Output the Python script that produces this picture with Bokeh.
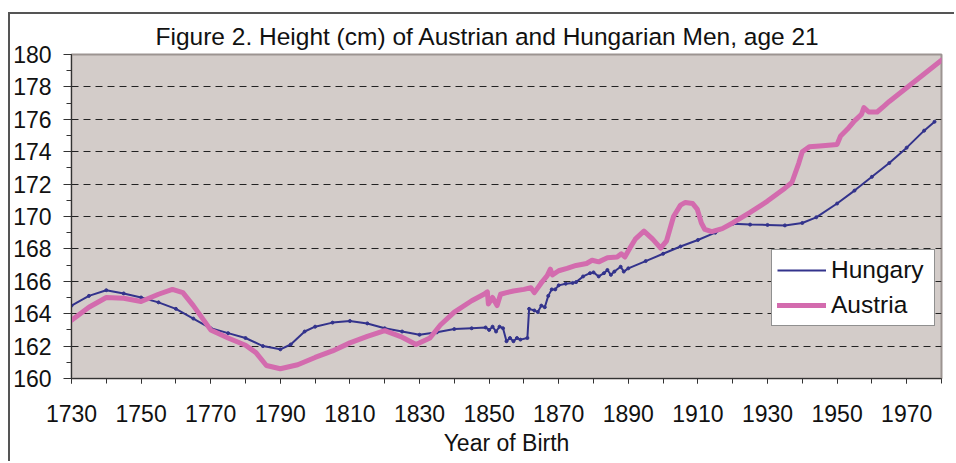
from bokeh.plotting import figure
from bokeh.models import (FixedTicker, Legend, LegendItem, Range1d)
from bokeh.embed import file_html
from bokeh.resources import INLINE

TITLE = "Figure 2. Height (cm) of Austrian and Hungarian Men, age 21"
X_LABEL = "Year of Birth"
X_TICKS = [1730, 1750, 1770, 1790, 1810, 1830, 1850, 1870, 1890, 1910, 1930, 1950, 1970]
Y_TICKS = [160, 162, 164, 166, 168, 170, 172, 174, 176, 178, 180]

hungary_year = [1730, 1735, 1740, 1745, 1750, 1755, 1760, 1765, 1770, 1775, 1780, 1785, 1790,
                1793, 1797, 1800, 1805, 1810, 1815, 1820, 1825, 1830, 1835, 1840, 1845, 1849,
                1850, 1851, 1852, 1853, 1854, 1855, 1856, 1857, 1858, 1859, 1861, 1861.5, 1863,
                1864, 1865, 1866, 1867, 1868, 1869, 1870, 1872, 1874, 1875, 1877, 1879, 1880,
                1881.5, 1883, 1884, 1885, 1886, 1887.8, 1888.7, 1890, 1895, 1900, 1905, 1910,
                1915, 1920, 1925, 1930, 1935, 1940, 1944, 1950, 1955, 1960, 1965, 1970, 1975, 1978]
hungary_height = [164.5, 165.1, 165.45, 165.25, 165.0, 164.7, 164.3, 163.7, 163.1, 162.8, 162.5, 162.0, 161.8,
                  162.1, 162.9, 163.2, 163.45, 163.55, 163.4, 163.1, 162.9, 162.7, 162.85, 163.05, 163.1, 163.15,
                  163.0, 163.2, 162.9, 163.2, 163.1, 162.3, 162.5, 162.3, 162.5, 162.4, 162.5, 164.3, 164.2,
                  164.1, 164.5, 164.4, 165.1, 165.5, 165.5, 165.75, 165.85, 165.9, 165.95, 166.3, 166.5, 166.55,
                  166.3, 166.5, 166.7, 166.4, 166.6, 166.9, 166.6, 166.8, 167.25, 167.7, 168.15, 168.55,
                  169.0, 169.55, 169.5, 169.48, 169.45, 169.6, 169.95, 170.8, 171.6, 172.45, 173.3, 174.25, 175.3, 175.85]

austria_year = [1730, 1735, 1740, 1745, 1750, 1755, 1759, 1762, 1765, 1770, 1775, 1780, 1783, 1786,
                1790, 1795, 1800, 1805, 1810, 1815, 1820, 1825, 1829, 1833, 1836, 1840, 1845, 1848.5,
                1849.5, 1849.8, 1851, 1852.3, 1853.3, 1855, 1857, 1860, 1862, 1863, 1865, 1866.7, 1867.6,
                1868.2, 1870, 1872.4, 1875, 1878, 1879.6, 1881.5, 1884, 1886.8, 1888, 1889, 1890.6, 1892,
                1894.5, 1897, 1899.3, 1901, 1903, 1905, 1906.4, 1908.5, 1909.8, 1911, 1912, 1914, 1917,
                1920, 1925, 1930, 1935, 1937, 1939, 1940, 1942, 1945, 1950, 1951, 1953, 1955, 1957,
                1957.7, 1959.1, 1961.5, 1963.4, 1965, 1970, 1975, 1980]
austria_height = [163.6, 164.4, 165.0, 164.95, 164.75, 165.2, 165.5, 165.3, 164.5, 163.0, 162.5, 162.05, 161.6, 160.8,
                  160.6, 160.85, 161.3, 161.7, 162.2, 162.6, 162.95, 162.55, 162.1, 162.5, 163.3, 164.1, 164.8, 165.2,
                  165.35, 164.6, 165.0, 164.5, 165.2, 165.3, 165.4, 165.5, 165.6, 165.3, 165.9, 166.35, 166.75,
                  166.4, 166.65, 166.8, 166.98, 167.1, 167.3, 167.2, 167.45, 167.5, 167.7, 167.5, 168.1, 168.6,
                  169.1, 168.6, 168.05, 168.5, 170.0, 170.7, 170.87, 170.8, 170.46, 169.6, 169.2, 169.07, 169.25,
                  169.6, 170.25, 170.95, 171.75, 172.1, 173.3, 174.0, 174.3, 174.35, 174.45, 174.97, 175.4, 175.9, 176.3,
                  176.72, 176.45, 176.45, 176.8, 177.1, 177.95, 178.8, 179.65]

HUN_COLOR = "#33338C"
AUT_COLOR = "#D36BAE"

p = figure(width=946, height=449, output_backend="svg", toolbar_location=None,
           x_range=Range1d(1730, 1980), y_range=Range1d(160, 180),
           min_border_left=61, min_border_right=15, min_border_top=40, min_border_bottom=85,
           background_fill_color="#D3CCC9", border_fill_color="white",
           styles={"margin-left": "8px", "margin-top": "12px",
                   "border-left": "2px solid #555555", "border-top": "2px solid #555555"})

p.title.text = TITLE
p.title.text_font = "Liberation Sans"
p.title.text_font_size = "24.5px"
p.title.text_font_style = "normal"
p.title.text_color = "#111111"
p.title.align = "left"
p.title.offset = 84
p.title.standoff = 10

p.outline_line_color = "#9C9491"
p.outline_line_width = 2

h_line = p.line(hungary_year, hungary_height, line_color=HUN_COLOR, line_width=2, line_join="round")
h_pts = p.scatter(hungary_year, hungary_height, size=3, color=HUN_COLOR)
a_line = p.line(austria_year, austria_height, line_color=AUT_COLOR, line_width=5, line_join="round", line_cap="round")

# axes
xa = p.xaxis[0]
xa.ticker = FixedTicker(ticks=X_TICKS, minor_ticks=list(range(1730, 1981, 10)))
xa.axis_label = X_LABEL
xa.axis_label_text_font = "Liberation Sans"
xa.axis_label_text_font_size = "23px"
xa.axis_label_text_font_style = "normal"
xa.axis_label_text_color = "#111111"
xa.axis_label_standoff = 5
xa.major_label_text_font = "Liberation Sans"
xa.major_label_text_font_size = "23px"
xa.major_label_text_color = "#111111"
xa.major_label_standoff = 21
xa.major_tick_out = 5
xa.major_tick_in = 0
xa.minor_tick_out = 5
xa.minor_tick_in = 0
xa.axis_line_color = "#333333"
xa.major_tick_line_color = "#333333"
xa.minor_tick_line_color = "#333333"

ya = p.yaxis[0]
ya.ticker = FixedTicker(ticks=Y_TICKS, minor_ticks=list(range(160, 181)))
ya.major_label_text_font = "Liberation Sans"
ya.major_label_text_font_size = "23px"
ya.major_label_text_color = "#111111"
ya.major_label_standoff = 12
ya.major_tick_out = 8
ya.major_tick_in = 0
ya.minor_tick_out = 5
ya.minor_tick_in = 0
ya.axis_line_color = "#333333"
ya.major_tick_line_color = "#333333"
ya.minor_tick_line_color = "#333333"

p.xgrid.grid_line_color = None
p.ygrid.ticker = FixedTicker(ticks=Y_TICKS[1:-1])
p.ygrid.grid_line_color = "#222222"
p.ygrid.grid_line_dash = "7 5"
p.ygrid.grid_line_width = 1

legend = Legend(items=[LegendItem(label="Hungary", renderers=[h_line]),
                       LegendItem(label="Austria", renderers=[a_line])],
                location=(700, 52), orientation="vertical")
legend.label_text_font = "Liberation Sans"
legend.label_text_font_size = "24.5px"
legend.label_text_color = "#111111"
legend.glyph_width = 49
legend.glyph_height = 30
legend.label_height = 30
legend.label_width = 98
legend.label_standoff = 5
legend.spacing = 5
legend.padding = 5
legend.margin = 0
legend.border_line_color = "#222222"
legend.border_line_width = 1
legend.background_fill_color = "white"
legend.background_fill_alpha = 1
p.add_layout(legend, "center")

open("out.html", "w").write(file_html(p, INLINE))
